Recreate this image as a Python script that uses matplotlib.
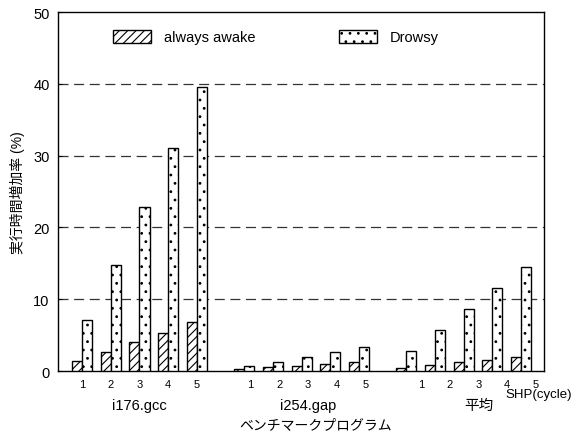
import numpy as np
import matplotlib
matplotlib.use('Agg')
import matplotlib.pyplot as plt
from matplotlib.transforms import blended_transform_factory

plt.rcParams['font.family'] = ['Liberation Sans', 'Noto Sans CJK JP']
plt.rcParams['hatch.linewidth'] = 0.8

# --- data ---
benchmarks = ['i176.gcc', 'i254.gap', '平均']
shp_labels = ['1', '2', '3', '4', '5']

awake_gcc = [1.4, 2.7, 4.0, 5.3, 6.8]
awake_gap = [0.25, 0.5, 0.75, 0.95, 1.2]
awake_avg = [0.35, 0.85, 1.2, 1.5, 1.9]

drowsy_gcc = [7.1, 14.8, 22.8, 31.0, 39.5]
drowsy_gap = [0.7, 1.3, 2.0, 2.7, 3.3]
drowsy_avg = [2.85, 5.7, 8.6, 11.5, 14.5]

awake = [awake_gcc, awake_gap, awake_avg]
drowsy = [drowsy_gcc, drowsy_gap, drowsy_avg]

# --- layout ---
group_step = 5.65          # 5 pairs + gap between benchmark groups
bar_w = 0.35
label_shift = [0.0, 0.22, 0.52]   # tick labels drift right in the original

fig = plt.figure(figsize=(5.71, 4.35), dpi=100)
ax = fig.add_axes([58 / 571, 1 - 372 / 435, (544 - 58) / 571, (372 - 13) / 435])

tick_pos = []
tick_lab = []
for g in range(len(benchmarks)):
    x = g * group_step + np.arange(len(shp_labels))
    ax.bar(x - bar_w / 2, awake[g], bar_w, color='white', edgecolor='black',
           hatch='////', linewidth=1.0, zorder=3,
           label='always awake' if g == 0 else None)
    ax.bar(x + bar_w / 2, drowsy[g], bar_w, color='white', edgecolor='black',
           hatch='..', linewidth=1.0, zorder=3,
           label='Drowsy' if g == 0 else None)
    tick_pos += list(x + label_shift[g])
    tick_lab += shp_labels
    ax.text(x.mean() + label_shift[g], -0.095, benchmarks[g],
            transform=blended_transform_factory(ax.transData, ax.transAxes),
            ha='center', va='center', fontsize=10.5)

ax.set_xlim(-0.84, 2 * group_step + 4 + 0.8)
ax.set_ylim(0, 50)
ax.set_yticks(range(0, 51, 10))
ax.set_xticks(tick_pos)
ax.set_xticklabels(tick_lab, fontsize=8)
ax.tick_params(axis='x', length=0, pad=6)
ax.tick_params(axis='y', direction='in', length=3, labelsize=10.5, pad=6)

for v in range(10, 50, 10):
    ax.axhline(v, color='#333333', linestyle=(0, (8, 4.5)), linewidth=0.9, zorder=1)

for s in ax.spines.values():
    s.set_linewidth(1.0)

ax.set_ylabel('実行時間増加率 (%)', fontsize=10, labelpad=6)
fig.text(316 / 571, 1 - 425 / 435, 'ベンチマークプログラム',
         ha='center', va='center', fontsize=10)
fig.text(539 / 571, 1 - 395 / 435, 'SHP(cycle)',
         ha='center', va='center', fontsize=9.5)

ax.legend(loc='upper left', bbox_to_anchor=(113 / 571, 1 - 31 / 435),
          bbox_transform=fig.transFigure, ncol=2, frameon=False,
          fontsize=10.5, handlelength=2.6, handleheight=0.95,
          handletextpad=0.9, columnspacing=5.7, borderpad=0, borderaxespad=0)

plt.savefig('out.png', dpi=100)
